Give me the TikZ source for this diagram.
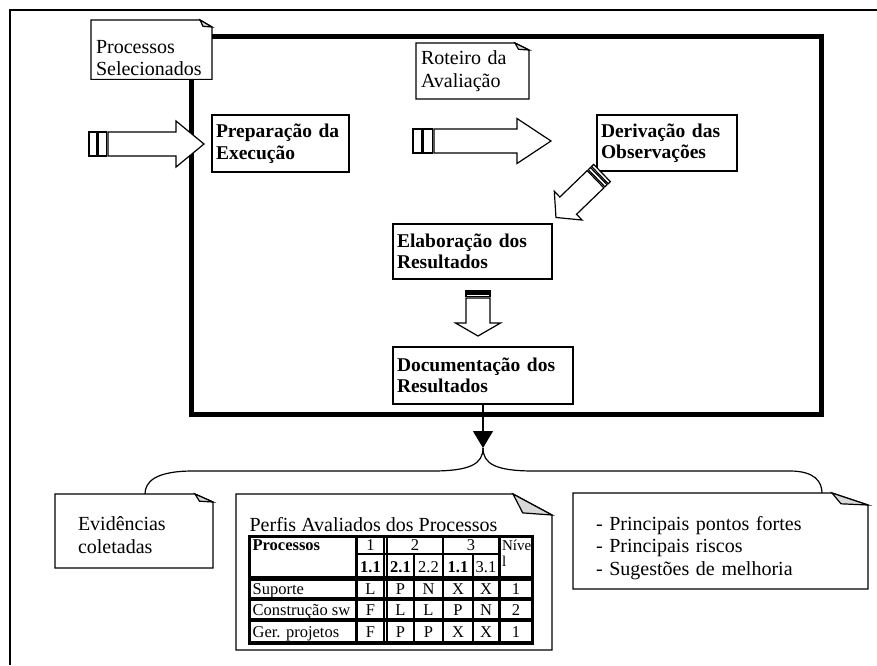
\documentclass[tikz,border=0pt]{standalone}
\usepackage{fontspec}
\setmainfont{Liberation Serif}
\usetikzlibrary{arrows.meta}

% nota com canto dobrado
\newcommand{\dogear}[3]{%
  \draw (#1.north west) -- ([xshift=-#2pt]#1.north east) -- ([yshift=-#3pt]#1.north east) -- (#1.south east) -- (#1.south west) -- cycle;
  \draw [fill=gray!30] ([xshift=-#2pt]#1.north east) -- ([yshift=-#3pt]#1.north east) -- ([xshift=-0.75*#2pt, yshift=-0.9*#3pt]#1.north east) -- cycle;
}

\begin{document}
\begin{tikzpicture}[x=1pt, y=-1pt, line width=1.2pt,
  etapa/.style={draw, fill=white, anchor=north west, align=left, outer sep=0pt,
    inner xsep=4pt, font=\fontsize{19.5}{21.5}\selectfont\bfseries},
  nota/.style={fill=white, anchor=north west, align=left, outer sep=0pt,
    font=\fontsize{20}{22.5}\selectfont},
  cel/.style={inner sep=0pt, anchor=base, font=\fontsize{16.5}{17}\selectfont},
  pics/seta/.style n args={4}{code={
    \draw [fill=white] ( 0, -12 ) rectangle ( #1, 12 );
    \draw [fill=white] ( #1+1.5, -12 ) rectangle ( 2*#1+1.5, 12 );
    \draw [fill=white] ( 2*#1+3, -12 ) -- ( #2-#3, -12 ) -- ( #2-#3, -#4 ) -- ( #2, 0 )
      -- ( #2-#3, #4 ) -- ( #2-#3, 12 ) -- ( 2*#1+3, 12 ) -- cycle;
  }}]
\useasboundingbox ( 0, 0 ) rectangle ( 877, 665 );

% molduras
\draw [line width=1.5pt] ( 877, 10 ) -- ( 10, 10 ) -- ( 10, 665 );
\draw [line width=5pt] ( 191, 36 ) rectangle ( 821.5, 414 );

% entradas
\node (psel) [nota, minimum height=55pt, inner xsep=5pt, text width=111pt] at ( 91, 20 ) {\rule{0pt}{30pt}Processos\\Selecionados};
\dogear{psel}{12}{7}
\node (rot) [nota, minimum height=56pt, inner xsep=5pt, text width=103pt] at ( 416, 43 ) {Roteiro da\\Avaliação};
\dogear{rot}{14}{7}

% etapas
\node (prep) [etapa, text width=129pt, minimum height=57pt] at ( 212, 115 ) {Preparação da\\Execução};
\node (deriv) [etapa, text width=132pt, minimum height=56pt] at ( 597, 115 ) {Derivação das\\Observações};
\node (elab) [etapa, text width=151pt, minimum height=55pt] at ( 393, 224 ) {Elaboração dos\\Resultados};
\node (docu) [etapa, text width=172pt, minimum height=57pt] at ( 393, 347 ) {Documentação dos\\Resultados};

% setas largas
\pic at ( 89, 144 ) {seta={8}{115}{28}{23}};
\pic at ( 413, 141 ) {seta={9}{138}{34}{22.5}};
\pic [rotate=224] at ( 602, 173 ) {seta={3}{64}{17}{20}};
\pic [rotate=-90] at ( 478, 291 ) {seta={2}{45}{13}{22.5}};

% saida
\coordinate (brtop) at ( 483, 448 );
\draw [-{Triangle[width=20pt, length=17pt]}] (docu.south) -- (brtop);

% produtos
\node (evid) [nota, minimum height=74pt, inner xsep=23pt, text width=112pt] at ( 55, 494 ) {\rule{0pt}{22pt}Evidências\\coletadas};
\dogear{evid}{18}{8}
\node (perf) [nota, minimum width=316pt, minimum height=156pt] at ( 236, 494 ) {};
\dogear{perf}{39}{21}
\node (resu) [nota, minimum height=96pt, inner xsep=23pt, text width=249pt] at ( 573, 493 ) {\rule{0pt}{28pt}- Principais pontos fortes\\- Principais riscos\\- Sugestões de melhoria};
\dogear{resu}{36}{12}

% chave
\draw (brtop) .. controls ( 483, 464 ) and ( 470, 471 ) .. ( 432, 471 ) -- ( 193, 471 )
  .. controls ( 155, 471 ) and ( 145, 482 ) .. ([xshift=11pt]evid.north);
\draw (brtop) .. controls ( 483, 464 ) and ( 496, 471 ) .. ( 534, 471 ) -- ( 790, 471 )
  .. controls ( 815, 471 ) and ( 822, 482 ) .. ([xshift=101.5pt]resu.north);

% tabela
\node (ptit) [anchor=base west, inner sep=0pt, font=\fontsize{20}{22}\selectfont] at ( 249, 531 ) {Perfis Avaliados dos Processos};
\fill ( 248, 535 ) rectangle ( 534, 645 );
\fill [white] ( 251, 538 ) rectangle ( 355, 576 );
\fill [white] ( 501, 538 ) rectangle ( 531, 576 );
\fill [white] ( 358, 538 ) rectangle ( 383, 553 );
\fill [white] ( 388, 538 ) rectangle ( 442, 553 );
\fill [white] ( 444, 538 ) rectangle ( 498, 553 );
\foreach \xa/\xb in {358/383, 388/413, 415/442, 444/472, 474/498}
  \fill [white] ( \xa, 555 ) rectangle ( \xb, 576 );
\foreach \ya/\yb in {581/597, 601/618, 622/641}
  \foreach \xa/\xb in {251/355, 358/383, 388/413, 415/442, 444/472, 474/498, 501/531}
    \fill [white] ( \xa, \ya ) rectangle ( \xb, \yb );
\foreach \ya/\yb in {538/553, 555/576, 581/597, 601/618, 622/641}
  \draw [white, line width=1pt] ( 385.5, \ya ) -- ( 385.5, \yb );

\node (hproc) [cel, anchor=base west] at ( 252, 550 ) {\textbf{Processos}};
\node (h1) [cel] at ( 370.5, 550 ) {1};
\node (h2) [cel] at ( 415, 550 ) {2};
\node (h3) [cel] at ( 471, 550 ) {3};
\node (hniv) [cel, anchor=base west, font=\fontsize{15}{16}\selectfont] at ( 501.5, 550 ) {Níve};
\node (hnivb) [cel, anchor=base west, font=\fontsize{15}{16}\selectfont] at ( 501.5, 566 ) {l};
\foreach \cx/\v [count=\j] in {370.5/\textbf{1.1}, 400.5/\textbf{2.1}, 428.5/2.2, 458/\textbf{1.1}, 486/3.1}
  \node (s\j) [cel] at ( \cx, 572 ) {\v};
\foreach \yb/\lbl/\va/\vb/\vc/\vd/\ve/\vf [count=\i] in {594/Suporte/L/P/N/X/X/1, 615/Construção sw/F/L/L/P/N/2, 637/Ger. projetos/F/P/P/X/X/1} {
  \node (l\i) [cel, anchor=base west] at ( 252, \yb ) {\lbl};
  \foreach \cx/\v [count=\j] in {370.5/\va, 400.5/\vb, 428.5/\vc, 458/\vd, 486/\ve, 516/\vf}
    \node (v\i\j) [cel] at ( \cx, \yb ) {\v};
}
\end{tikzpicture}
\end{document}
